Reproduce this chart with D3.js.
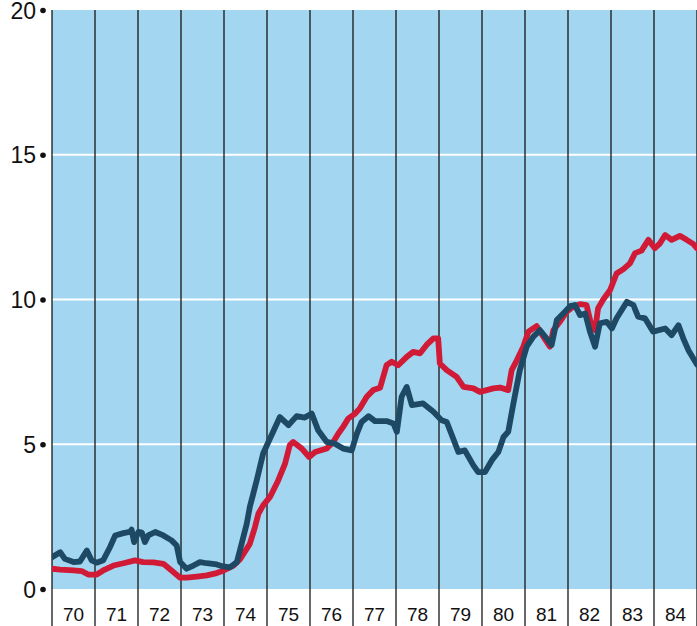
<!DOCTYPE html>
<html>
<head>
<meta charset="utf-8">
<script src="https://cdn.jsdelivr.net/npm/d3@7"></script>
<style>
  html, body { margin: 0; padding: 0; background: #ffffff; }
  svg { display: block; }
  text { font-family: "Liberation Sans", Arial, Helvetica, sans-serif; fill: #111; }
</style>
</head>
<body>
<svg id="chart" width="697" height="626"></svg>
<script>
// ---- data ----
const yearLabels = ["70","71","72","73","74","75","76","77","78","79","80","81","82","83","84"];
const yTickValues = [0, 5, 10, 15, 20];
const gridValues = [5, 10, 15];

// dark blue series: time (decimal year) and value
const blueTimes = [1970.00,1970.19,1970.30,1970.50,1970.65,1970.81,1970.92,1971.04,1971.19,1971.35,1971.47,1971.66,1971.81,1971.85,1971.91,1972.01,1972.09,1972.16,1972.24,1972.40,1972.59,1972.78,1972.90,1972.98,1973.13,1973.29,1973.44,1973.60,1973.83,1973.98,1974.14,1974.30,1974.41,1974.53,1974.60,1974.76,1974.91,1975.07,1975.30,1975.50,1975.69,1975.88,1976.04,1976.19,1976.39,1976.58,1976.77,1976.97,1977.09,1977.20,1977.36,1977.51,1977.78,1977.94,1978.02,1978.13,1978.25,1978.37,1978.63,1978.87,1979.06,1979.18,1979.30,1979.45,1979.60,1979.80,1979.91,1980.07,1980.23,1980.38,1980.50,1980.61,1980.73,1980.88,1981.04,1981.19,1981.35,1981.50,1981.62,1981.74,1981.89,1982.05,1982.16,1982.28,1982.40,1982.51,1982.63,1982.74,1982.90,1983.02,1983.13,1983.37,1983.52,1983.63,1983.79,1983.98,1984.26,1984.41,1984.57,1984.68,1984.80,1985.00];
const blueValues = [1.10,1.27,1.04,0.93,0.95,1.33,0.99,0.91,0.99,1.45,1.85,1.93,1.97,2.05,1.62,1.97,1.95,1.62,1.85,1.97,1.85,1.68,1.50,0.93,0.70,0.81,0.93,0.89,0.85,0.78,0.75,0.93,1.56,2.26,2.83,3.75,4.68,5.20,5.94,5.66,5.97,5.92,6.06,5.48,5.08,5.02,4.85,4.79,5.37,5.77,5.97,5.80,5.80,5.72,5.43,6.64,6.98,6.35,6.41,6.12,5.83,5.77,5.31,4.73,4.79,4.27,4.04,4.04,4.45,4.73,5.25,5.43,6.41,7.56,8.37,8.71,8.94,8.66,8.43,9.29,9.52,9.77,9.81,9.46,9.52,8.89,8.37,9.18,9.23,9.00,9.35,9.92,9.81,9.41,9.35,8.89,9.00,8.77,9.11,8.66,8.25,7.75];

// red series: time (decimal year) and value
const redTimes = [1970.00,1970.19,1970.50,1970.69,1970.84,1971.04,1971.19,1971.43,1971.66,1971.93,1972.12,1972.36,1972.59,1972.78,1972.98,1973.13,1973.37,1973.60,1973.83,1973.98,1974.22,1974.37,1974.60,1974.72,1974.80,1974.91,1975.07,1975.26,1975.42,1975.53,1975.61,1975.81,1975.98,1976.12,1976.39,1976.54,1976.66,1976.77,1976.89,1977.05,1977.16,1977.32,1977.47,1977.63,1977.78,1977.90,1978.05,1978.25,1978.40,1978.56,1978.71,1978.87,1978.98,1979.02,1979.18,1979.41,1979.57,1979.80,1979.95,1980.11,1980.26,1980.42,1980.61,1980.69,1980.81,1980.96,1981.08,1981.27,1981.43,1981.58,1981.66,1981.81,1981.97,1982.12,1982.28,1982.43,1982.55,1982.63,1982.70,1982.82,1982.98,1983.13,1983.29,1983.44,1983.56,1983.71,1983.87,1984.02,1984.14,1984.26,1984.41,1984.60,1984.76,1984.91,1985.00];
const redValues = [0.70,0.67,0.64,0.62,0.50,0.50,0.64,0.81,0.89,0.99,0.93,0.92,0.87,0.64,0.39,0.39,0.43,0.47,0.55,0.63,0.81,1.02,1.56,2.14,2.60,2.89,3.18,3.75,4.33,4.97,5.08,4.85,4.56,4.73,4.85,5.08,5.37,5.60,5.89,6.06,6.24,6.64,6.87,6.95,7.73,7.85,7.73,8.02,8.19,8.14,8.43,8.66,8.66,7.79,7.56,7.33,6.98,6.93,6.81,6.87,6.93,6.96,6.87,7.56,7.90,8.37,8.89,9.08,8.71,8.37,8.94,9.23,9.58,9.75,9.84,9.81,9.06,8.94,9.70,10.00,10.33,10.90,11.05,11.25,11.60,11.69,12.06,11.77,11.94,12.23,12.06,12.20,12.06,11.92,11.77];

// ---- layout ----
const W = 697, H = 626;
const mLeft = 52, mRight = 697, mTop = 10, mBottom = 589;
const svg = d3.select("#chart");

const x = d3.scaleLinear().domain([1970, 1985]).range([mLeft, mRight]);
const y = d3.scaleLinear().domain([0, 20]).range([mBottom, mTop]);
const xBand = d3.scaleBand().domain(yearLabels).range([mLeft, mRight]);

// background
svg.append("rect").attr("x", 0).attr("y", 0).attr("width", W).attr("height", H).attr("fill", "#ffffff");
svg.append("rect")
  .attr("x", mLeft).attr("y", mTop)
  .attr("width", mRight - mLeft).attr("height", mBottom - mTop)
  .attr("fill", "#a2d6f1");

// horizontal white gridlines
svg.append("g").selectAll("line").data(gridValues).join("line")
  .attr("x1", mLeft).attr("x2", mRight)
  .attr("y1", d => y(d)).attr("y2", d => y(d))
  .attr("stroke", "#ffffff").attr("stroke-width", 2.2);

// vertical year lines
const boundaries = d3.range(1970, 1986);
svg.append("g").selectAll("line").data(boundaries).join("line")
  .attr("x1", d => x(d)).attr("x2", d => x(d))
  .attr("y1", mTop).attr("y2", H)
  .attr("stroke", "#161616").attr("stroke-width", 1.3);

// lines
const line = d3.line()
  .x(d => x(d[0])).y(d => y(d[1]))
  .curve(d3.curveLinear);

const redData = redTimes.map((t, i) => [t, redValues[i]]);
const blueData = blueTimes.map((t, i) => [t, blueValues[i]]);

svg.append("clipPath").attr("id", "plotclip")
  .append("rect").attr("x", mLeft).attr("y", 0).attr("width", mRight - mLeft).attr("height", mBottom);

const lines = svg.append("g").attr("clip-path", "url(#plotclip)");
lines.append("path").datum(redData)
  .attr("d", line).attr("fill", "none")
  .attr("stroke", "#d01a36").attr("stroke-width", 5.8)
  .attr("stroke-linejoin", "round").attr("stroke-linecap", "round");
lines.append("path").datum(blueData)
  .attr("d", line).attr("fill", "none")
  .attr("stroke", "#1e4964").attr("stroke-width", 5.8)
  .attr("stroke-linejoin", "round").attr("stroke-linecap", "round");

// y axis labels with dots
const yAxis = d3.axisLeft(y).tickValues(yTickValues).tickSize(0).tickPadding(0).tickFormat(d3.format("d"));
const yG = svg.append("g").attr("transform", `translate(${mLeft - 16},0)`).call(yAxis);
yG.select(".domain").remove();
yG.selectAll(".tick text")
  .attr("x", 0).attr("y", 8).attr("dy", 0)
  .style("font-size", "23px").style("fill", "#111")
  .attr("text-anchor", "end");
yG.selectAll(".tick").append("circle")
  .attr("cx", 7).attr("cy", 0).attr("r", 2.8).attr("fill", "#111");

// x axis labels (years centred in each band)
const xAxis = d3.axisBottom(xBand).tickSize(0).tickPadding(0);
const xG = svg.append("g").attr("transform", `translate(0,${mBottom})`).call(xAxis);
xG.select(".domain").remove();
xG.selectAll(".tick text")
  .attr("y", 32).attr("dy", 0)
  .style("font-size", "19px").style("fill", "#111");
</script>
</body>
</html>
